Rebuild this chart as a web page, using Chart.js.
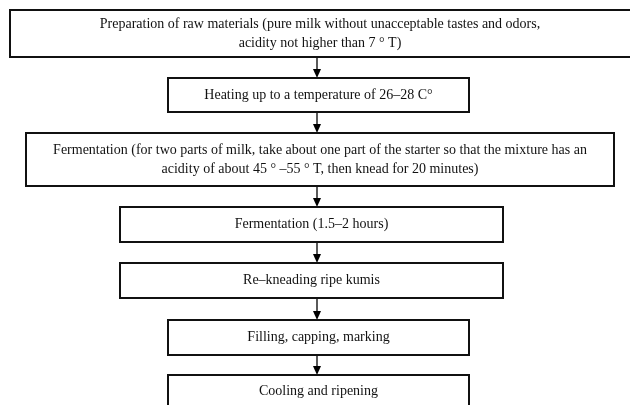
<!DOCTYPE html>
<html>
<head>
<meta charset="utf-8">
<script src="https://cdn.jsdelivr.net/npm/chart.js@4.4.1/dist/chart.umd.min.js"></script>
<style>
  html, body { margin: 0; padding: 0; background: #fff; }
  #flow { display: block; }
</style>
</head>
<body>
<canvas id="flow" width="630" height="405"></canvas>
<script>
        // process steps, top to bottom
        const steps = [
            ['Preparation of raw materials (pure milk without unacceptable tastes and odors,', 'acidity not higher than 7 ° T)'],
            ['Heating up to a temperature of 26–28 C°'],
            ['Fermentation (for two parts of milk, take about one part of the starter so that the mixture has an', 'acidity of about 45 ° –55 ° T, then knead for 20 minutes)'],
            ['Fermentation (1.5–2 hours)'],
            ['Re–kneading ripe kumis'],
            ['Filling, capping, marking'],
            ['Cooling and ripening']
        ];

        // box extents in chart units (x: 0-630, y: 0-405 from top)
        const boxLeft   = [10, 168, 26, 120, 120, 168, 168];
        const boxRight  = [640, 469, 614, 503, 503, 469, 469];
        const boxTop    = [10, 78, 133, 207, 263, 320, 375];
        const boxBottom = [57, 112, 186, 242, 298, 355, 408];
        const arrowX = 317;

        const flowPlugin = {
            id: 'flowBoxes',
            afterDraw(chart) {
                const ctx = chart.ctx;
                const xs = chart.scales.x;
                const ys = chart.scales.y;
                ctx.save();

                // arrows between boxes
                ctx.strokeStyle = '#000';
                ctx.fillStyle = '#000';
                ctx.lineWidth = 1.3;
                for (let i = 0; i < steps.length - 1; i++) {
                    const ax = xs.getPixelForValue(arrowX);
                    const y0 = ys.getPixelForValue(boxBottom[i]);
                    const y1 = ys.getPixelForValue(boxTop[i + 1]);
                    ctx.beginPath();
                    ctx.moveTo(ax, y0);
                    ctx.lineTo(ax, y1 - 7);
                    ctx.stroke();
                    ctx.beginPath();
                    ctx.moveTo(ax - 4, y1 - 9);
                    ctx.lineTo(ax + 4, y1 - 9);
                    ctx.lineTo(ax, y1);
                    ctx.closePath();
                    ctx.fill();
                }

                // boxes and their text
                ctx.font = '14px "Liberation Serif", "DejaVu Serif", serif';
                ctx.textAlign = 'center';
                ctx.textBaseline = 'middle';
                steps.forEach((lines, i) => {
                    const x0 = xs.getPixelForValue(boxLeft[i]);
                    const x1 = xs.getPixelForValue(boxRight[i]);
                    const y0 = ys.getPixelForValue(boxTop[i]);
                    const y1 = ys.getPixelForValue(boxBottom[i]);
                    ctx.fillStyle = '#fff';
                    ctx.fillRect(x0, y0, x1 - x0, y1 - y0);
                    ctx.strokeStyle = '#111';
                    ctx.lineWidth = 2;
                    ctx.strokeRect(x0, y0, x1 - x0, y1 - y0);

                    const visRight = Math.min(x1, chart.chartArea.right);
                    const cx = (x0 + visRight) / 2;
                    const cy = (y0 + y1) / 2;
                    const lh = 19;
                    ctx.fillStyle = '#111';
                    lines.forEach((t, k) => {
                        ctx.fillText(t, cx, cy + (k - (lines.length - 1) / 2) * lh);
                    });
                });
                ctx.restore();
            }
        };

        const chart = new Chart(document.getElementById('flow').getContext('2d'), {
            type: 'scatter',
            data: { datasets: [{ data: [], pointRadius: 0 }] },
            options: {
                responsive: false,
                animation: false,
                devicePixelRatio: 1,
                layout: { padding: 0 },
                plugins: { legend: { display: false }, tooltip: { enabled: false } },
                scales: {
                    x: { type: 'linear', min: 0, max: 630, display: false },
                    y: { type: 'linear', min: 0, max: 405, reverse: true, display: false }
                }
            },
            plugins: [flowPlugin]
        });
</script>
</body>
</html>
